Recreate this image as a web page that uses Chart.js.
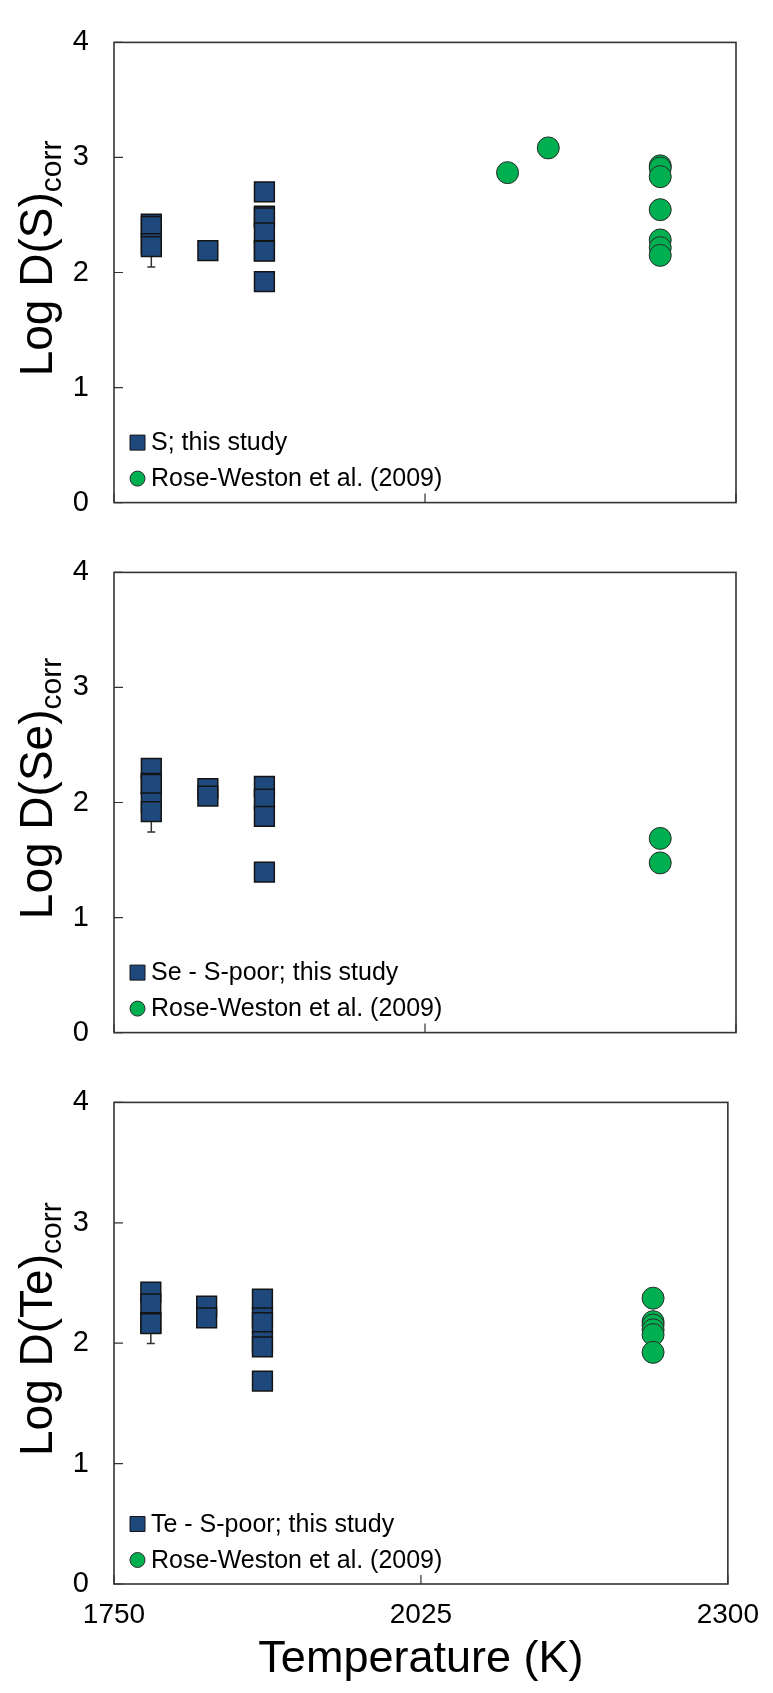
<!DOCTYPE html>
<html>
<head>
<meta charset="utf-8">
<script src="https://cdn.jsdelivr.net/npm/chart.js@4.4.0/dist/chart.umd.min.js"></script>
<style>
  html, body { margin: 0; padding: 0; background: #fff; }
  #wrap { position: relative; width: 773px; height: 1693px; }
  canvas { position: absolute; left: 0; }
</style>
</head>
<body>
<div id="wrap">
  <canvas id="chartS" style="top:0px" width="773" height="545"></canvas>
  <canvas id="chartSe" style="top:530px" width="773" height="545"></canvas>
  <canvas id="chartTe" style="top:1060px" width="773" height="633"></canvas>
</div>
<script>
var xTicks = [1750, 2025, 2300];
var yTicks = [0, 1, 2, 3, 4];
var roseLabel = 'Rose-Weston et al. (2009)';

// S panel
var sStudyT = [1783, 1783, 1783, 1783, 1833, 1883, 1883, 1883, 1883, 1883, 1883, 1883];
var sStudyD = [2.42, 2.40, 2.25, 2.225, 2.19, 2.70, 2.49, 2.475, 2.345, 2.19, 2.185, 1.92];
var sStudyErr = [0, 0, 0, 0.178, 0, 0, 0, 0, 0, 0, 0, 0];
var sRoseT = [2098, 2134, 2233, 2233, 2233, 2233, 2233, 2233, 2233];
var sRoseD = [2.868, 3.083, 2.927, 2.908, 2.833, 2.546, 2.283, 2.216, 2.149];

// Se panel
var seStudyT = [1783, 1783, 1783, 1783, 1783, 1833, 1833, 1883, 1883, 1883, 1883];
var seStudyD = [2.296, 2.167, 2.157, 1.996, 1.921, 2.12, 2.055, 2.14, 2.03, 1.88, 1.395];
var seStudyErr = [0, 0, 0, 0, 0.177, 0, 0, 0, 0, 0, 0];
var seRoseT = [2233, 2233];
var seRoseD = [1.688, 1.475];

// Te panel
var teStudyT = [1783, 1783, 1783, 1783, 1833, 1833, 1883, 1883, 1883, 1883, 1883, 1883];
var teStudyD = [2.425, 2.326, 2.17, 2.163, 2.307, 2.211, 2.366, 2.211, 2.17, 2.012, 1.969, 1.685];
var teStudyErr = [0, 0, 0, 0.165, 0, 0, 0, 0, 0, 0, 0, 0];
var teRoseT = [2233, 2233, 2233, 2233, 2233, 2233];
var teRoseD = [2.374, 2.179, 2.151, 2.111, 2.071, 1.924];

var FONT = '"Liberation Sans", Arial, sans-serif';
var blueFill = '#1f497d', blueLine = '#141414';
var greenFill = '#00b050', greenLine = '#2a2a2a';

function toPoints(xs, ys) {
    var pts = [];
    for (var i = 0; i < xs.length; i++) {
        pts.push({x: xs[i], y: ys[i]});
    }
    return pts;
}

var decorPlugin = {
    id: 'decor',
    beforeDatasetsDraw: function(chart) {
        var ctx = chart.ctx, a = chart.chartArea;
        var xs = chart.scales.x, ys = chart.scales.y;
        var ds = chart.data.datasets[0];
        ctx.save();

        // error bars, behind the squares
        ctx.strokeStyle = '#333';
        ctx.lineWidth = 1.5;
        for (var i = 0; i < ds.errors.length; i++) {
            var e = ds.errors[i];
            if (!e) continue;
            var p = ds.data[i];
            var px = xs.getPixelForValue(p.x);
            var y1 = ys.getPixelForValue(p.y - e), y2 = ys.getPixelForValue(p.y + e);
            ctx.beginPath();
            ctx.moveTo(px, y1); ctx.lineTo(px, y2);
            ctx.moveTo(px - 4, y1); ctx.lineTo(px + 4, y1);
            ctx.moveTo(px - 4, y2); ctx.lineTo(px + 4, y2);
            ctx.stroke();
        }

        // frame
        ctx.strokeStyle = '#333';
        ctx.lineWidth = 1.6;
        ctx.strokeRect(a.left, a.top, a.right - a.left, a.bottom - a.top);

        // inward tick marks
        ctx.lineWidth = 1.2;
        ctx.beginPath();
        ys.ticks.forEach(function(t, k) {
            var py = ys.getPixelForTick(k);
            ctx.moveTo(a.left, py); ctx.lineTo(a.left + 9, py);
        });
        xs.ticks.forEach(function(t, k) {
            var px = xs.getPixelForTick(k);
            ctx.moveTo(px, a.bottom); ctx.lineTo(px, a.bottom - 9);
        });
        ctx.stroke();
        ctx.restore();
    },
    afterDraw: function(chart) {
        var ctx = chart.ctx, a = chart.chartArea;
        var opts = chart.options.plugins.decor;
        ctx.save();

        // legend inside the plot, bottom left
        var rows = [a.bottom - 60, a.bottom - 24];
        var mx = a.left + 23.5;
        chart.data.datasets.forEach(function(ds, k) {
            var y = rows[k];
            ctx.fillStyle = ds.backgroundColor;
            ctx.strokeStyle = ds.borderColor;
            ctx.lineWidth = 1;
            ctx.beginPath();
            if (ds.pointStyle === 'rect') {
                ctx.rect(mx - 7.5, y - 7.5, 15, 15);
            } else {
                ctx.arc(mx, y, 7.5, 0, Math.PI * 2);
            }
            ctx.fill();
            ctx.stroke();
            ctx.fillStyle = '#000';
            ctx.font = '25px ' + FONT;
            ctx.textBaseline = 'middle';
            ctx.textAlign = 'left';
            ctx.fillText(ds.label, a.left + 37, y + 1);
        });

        // y title with subscript
        var main = 'Log D(' + opts.element + ')';
        ctx.font = '46px ' + FONT;
        var w1 = ctx.measureText(main).width;
        ctx.font = '30px ' + FONT;
        var w2 = ctx.measureText('corr').width;
        var total = w1 + w2;
        ctx.translate(52, (a.top + a.bottom) / 2 - 14);
        ctx.rotate(-Math.PI / 2);
        ctx.fillStyle = '#000';
        ctx.textBaseline = 'alphabetic';
        ctx.textAlign = 'left';
        ctx.font = '46px ' + FONT;
        ctx.fillText(main, -total / 2, 0);
        ctx.font = '30px ' + FONT;
        ctx.fillText('corr', -total / 2 + w1, 9);
        ctx.restore();
    }
};

function buildPanel(canvasId, element, studyLabel, studyT, studyD, studyErr, roseT, roseD, padTop, padBottom, isBottom) {
    var ctx = document.getElementById(canvasId).getContext('2d');
    return new Chart(ctx, {
        type: 'scatter',
        data: {
            datasets: [{
                label: studyLabel,
                data: toPoints(studyT, studyD),
                errors: studyErr,
                pointStyle: 'rect',
                pointRadius: 14,
                pointHoverRadius: 14,
                borderWidth: 1.5,
                backgroundColor: blueFill,
                borderColor: blueLine
            }, {
                label: roseLabel,
                data: toPoints(roseT, roseD),
                pointStyle: 'circle',
                pointRadius: 11,
                pointHoverRadius: 11,
                borderWidth: 1,
                backgroundColor: greenFill,
                borderColor: greenLine
            }]
        },
        options: {
            responsive: false,
            animation: false,
            events: [],
            layout: { padding: { left: 0, right: 37, top: padTop, bottom: padBottom } },
            plugins: {
                legend: { display: false },
                tooltip: { enabled: false },
                decor: { element: element }
            },
            scales: {
                x: {
                    type: 'linear',
                    min: 1750,
                    max: 2300,
                    afterBuildTicks: function(s) {
                        s.ticks = xTicks.map(function(v) { return {value: v}; });
                    },
                    grid: { display: false, drawTicks: false },
                    border: { display: false },
                    ticks: {
                        display: isBottom,
                        color: '#000',
                        font: { family: FONT, size: 28 },
                        padding: 14,
                        maxRotation: 0,
                        autoSkip: false,
                        callback: function(v) { return String(v); }
                    },
                    title: {
                        display: isBottom,
                        text: 'Temperature (K)',
                        color: '#000',
                        font: { family: FONT, size: 45 },
                        padding: { top: 0, bottom: 6 }
                    },
                    afterFit: function(s) { s.height = isBottom ? 109 : 0; }
                },
                y: {
                    type: 'linear',
                    min: 0,
                    max: 4,
                    afterBuildTicks: function(s) {
                        s.ticks = yTicks.map(function(v) { return {value: v}; });
                    },
                    grid: { display: false, drawTicks: false },
                    border: { display: false },
                    ticks: {
                        color: '#000',
                        font: { family: FONT, size: 29 },
                        padding: 25,
                        callback: function(v) { return String(v); }
                    },
                    afterFit: function(s) { s.width = 114; }
                }
            }
        },
        plugins: [decorPlugin]
    });
}

buildPanel('chartS', 'S', 'S; this study', sStudyT, sStudyD, sStudyErr, sRoseT, sRoseD, 15, 33, false);
buildPanel('chartSe', 'Se', 'Se - S-poor; this study', seStudyT, seStudyD, seStudyErr, seRoseT, seRoseD, 25, 23, false);
buildPanel('chartTe', 'Te', 'Te - S-poor; this study', teStudyT, teStudyD, teStudyErr, teRoseT, teRoseD, 27, 0, true);
</script>
</body>
</html>
